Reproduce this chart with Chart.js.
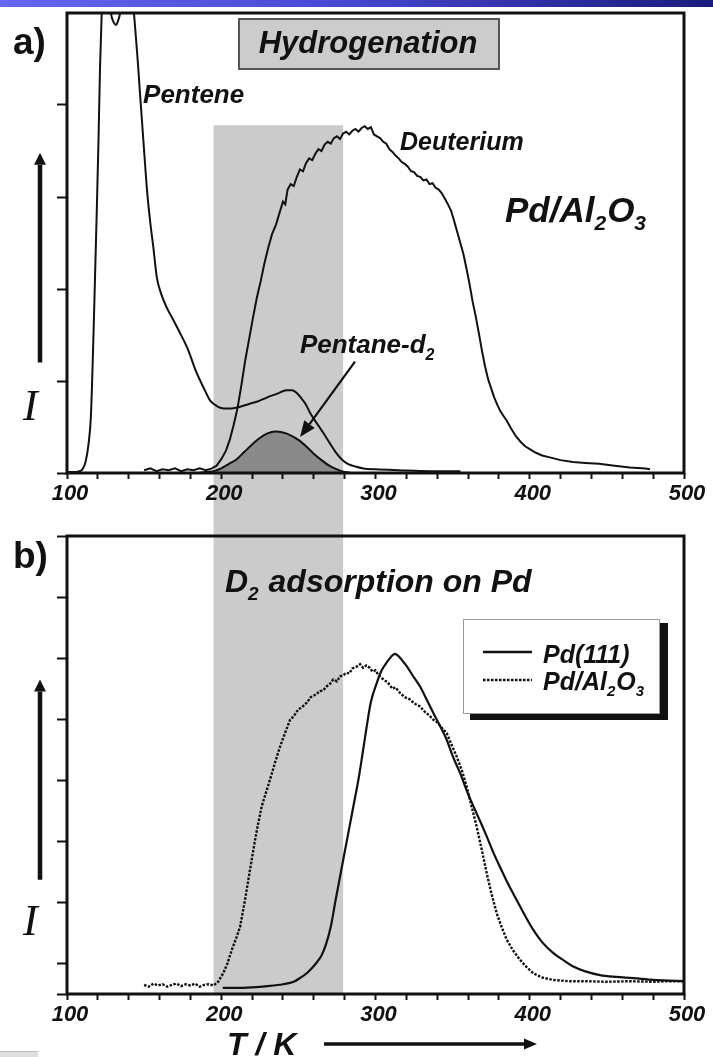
<!DOCTYPE html>
<html lang="en">
<head>
<meta charset="UTF-8">
<title>TPD spectra</title>
<style>
  body { margin: 0; background: #fff; }
  #page { position: relative; width: 713px; height: 1057px; overflow: hidden; background: #fff; }
  #topbar { position: absolute; left: 0; top: 0; width: 713px; height: 7px;
            background: linear-gradient(to right, #6666f0, #4a4ad6 45%, #1b1b7e); }
  #corner { position: absolute; left: 0; bottom: 0; width: 38px; height: 5px;
            background: #dedede; border-top: 1px solid #bdbdbd; }
  canvas { position: absolute; left: 0; }
  #chartA { top: 0; }
  #chartB { top: 520px; }
</style>
</head>
<body>
<div id="page">
  <canvas id="chartA" width="713" height="520"></canvas>
  <canvas id="chartB" width="713" height="537"></canvas>
  <div id="topbar"></div>
  <div id="corner"></div>
</div>

<script src="https://cdn.jsdelivr.net/npm/chart.js"></script>
<script>
// temperature axis (K)
const xTicks = [100, 120, 140, 160, 180, 200, 220, 240, 260, 280, 300, 320, 340, 360, 380, 400, 420, 440, 460, 480, 500];
const xLabels = [100, 200, 300, 400, 500];
const yTicksA = [0, 1, 2, 3, 4];
const yTicksB = [0, 0.5, 1.5, 2.5, 3.5, 4.5, 5.5, 6.5, 7.5];

// hydrogenation window shaded in both panels
const bandT = [195, 279];
const bandTopA = 3.78;

// panel a) hydrogenation on Pd/Al2O3  [T, I]
const pentene = [
  [100, 0.01], [105, 0.01], [108, 0.02], [110, 0.04], [112, 0.12], [114, 0.32], [115.5, 0.62],
  [117, 1.4], [118.2, 2.15], [119.3, 2.85], [120.4, 3.6], [121.4, 4.4], [122.5, 5.0], [124.5, 5.45],
  [126.5, 5.4], [128.5, 5.0], [130.2, 4.9], [131.8, 4.87], [133.2, 4.92], [134.4, 5.0], [137.5, 5.5],
  [141, 5.5], [143.4, 5.0], [144.6, 4.75], [146, 4.45], [147.3, 4.13], [148.5, 3.85], [150, 3.5],
  [152, 3.05], [154, 2.72], [156, 2.45], [158.2, 2.13], [161, 1.95], [164.6, 1.80], [169, 1.66],
  [173.3, 1.52], [178, 1.36], [184, 1.09], [188.5, 0.93], [192.7, 0.79], [196, 0.74], [199.2, 0.71],
  [205, 0.70], [212.2, 0.72], [218, 0.75], [224, 0.78], [229.5, 0.82], [236, 0.86], [242.4, 0.90],
  [246, 0.90], [249, 0.87], [252, 0.81], [255, 0.74], [258, 0.64], [262, 0.54], [266, 0.44],
  [270.5, 0.32], [274, 0.23], [278, 0.15], [282, 0.10], [287, 0.07], [292, 0.05], [300, 0.04],
  [315, 0.03], [335, 0.02], [355, 0.02]
];
const deuterium = [
  [150, 0.03], [154, 0.05], [158, 0.02], [162, 0.04], [166, 0.03], [170, 0.05], [174, 0.02],
  [178, 0.04], [182, 0.03], [186, 0.05], [190, 0.03], [194, 0.05], [197, 0.08], [200, 0.15],
  [203, 0.24], [205.5, 0.36], [208, 0.52], [210.5, 0.70], [213, 0.95], [215.5, 1.22], [218, 1.45],
  [220.5, 1.68], [223, 1.90], [225.5, 2.08], [228, 2.28], [230.5, 2.45], [233, 2.60], [235.5, 2.70],
  [238, 2.84], [240, 2.95], [241.5, 2.92], [243, 3.08], [245, 3.14], [247, 3.12], [249, 3.22],
  [251, 3.30], [253, 3.28], [255, 3.37], [257, 3.42], [259, 3.40], [261, 3.47], [263, 3.52],
  [265, 3.50], [267, 3.57], [269, 3.60], [271, 3.58], [273, 3.64], [275, 3.66], [277, 3.63],
  [279, 3.69], [281, 3.71], [283, 3.68], [285, 3.72], [287, 3.74], [289, 3.71], [291, 3.75],
  [293, 3.77], [295, 3.74], [297, 3.76], [299, 3.68], [301, 3.66], [303, 3.64], [305, 3.60],
  [307, 3.58], [309, 3.52], [311, 3.49], [313, 3.45], [315, 3.42], [317, 3.38], [319, 3.36],
  [321, 3.33], [323, 3.28], [325, 3.27], [327, 3.23], [329, 3.22], [331, 3.18], [333, 3.19],
  [335, 3.14], [337, 3.15], [339, 3.10], [341, 3.08], [343, 3.04], [345, 2.98], [347, 2.92],
  [349, 2.85], [351, 2.74], [353, 2.62], [355, 2.50], [357, 2.38], [359, 2.22], [361, 2.05],
  [363, 1.86], [365, 1.70], [367, 1.52], [369, 1.33], [371, 1.16], [373, 1.02], [375, 0.92],
  [377, 0.82], [379, 0.74], [381, 0.67], [383, 0.62], [385, 0.57], [388, 0.48], [391, 0.40],
  [394, 0.34], [397, 0.29], [400, 0.26], [404, 0.22], [408, 0.19], [413, 0.17], [420, 0.14],
  [428, 0.12], [436, 0.11], [445, 0.10], [455, 0.08], [465, 0.06], [475, 0.05], [478, 0.04]
];
const pentaneD2 = [
  [185, 0.0], [190, 0.01], [195, 0.02], [200, 0.05], [205, 0.10], [210, 0.15], [215, 0.23],
  [220, 0.31], [225, 0.38], [230, 0.43], [235, 0.45], [240, 0.44], [245, 0.41], [250, 0.36],
  [255, 0.29], [260, 0.21], [265, 0.14], [270, 0.08], [275, 0.04], [280, 0.01], [285, 0.0]
];

// panel b) D2 desorption  [T, I]
const pd111 = [
  [201, 0.10], [210, 0.10], [220, 0.11], [230, 0.13], [240, 0.16], [247, 0.20], [251, 0.26],
  [255.4, 0.34], [259, 0.43], [262, 0.52], [265, 0.63], [268, 0.82], [271, 1.10], [274, 1.52],
  [277, 1.92], [280, 2.32], [283, 2.72], [286, 3.12], [289, 3.52], [292, 4.00], [294.3, 4.38],
  [297, 4.78], [300.8, 5.09], [304, 5.30], [307.3, 5.43], [310, 5.52], [312.6, 5.57], [315, 5.53],
  [318, 5.44], [320.2, 5.37], [324, 5.22], [328.8, 5.04], [333, 4.83], [337.5, 4.60], [342, 4.38],
  [346.2, 4.16], [350, 3.90], [354.8, 3.62], [359, 3.34], [363.4, 3.08], [368, 2.82], [372.1, 2.58],
  [376, 2.34], [380.7, 2.08], [386, 1.80], [391.5, 1.54], [397, 1.28], [402.3, 1.05], [408, 0.85],
  [415.3, 0.67], [422, 0.55], [428.2, 0.45], [436, 0.37], [445.5, 0.31], [456, 0.28], [467, 0.26],
  [480, 0.23], [490, 0.22], [500, 0.21]
];
const pdAl2O3 = [
  [150, 0.15], [153, 0.12], [156, 0.17], [159, 0.14], [162, 0.16], [165, 0.12], [168, 0.15],
  [171, 0.17], [174, 0.13], [177, 0.16], [180, 0.14], [183, 0.17], [186, 0.12], [189, 0.15],
  [192, 0.16], [195, 0.14], [198, 0.20], [201.3, 0.34], [204, 0.50], [206.8, 0.72], [209.5, 0.90],
  [212.2, 1.10], [215.4, 1.54], [218.6, 2.03], [221.9, 2.52], [224, 2.80], [226.2, 3.07], [229, 3.30],
  [231.6, 3.51], [235, 3.80], [238.1, 4.05], [241, 4.25], [244.6, 4.49], [247, 4.55], [250, 4.66],
  [252.5, 4.70], [255.4, 4.77], [258, 4.86], [261, 4.90], [264, 4.96], [266, 4.97], [268.4, 5.04],
  [270.5, 5.08], [272.6, 5.15], [275, 5.12], [277, 5.20], [279.1, 5.22], [281, 5.26], [283, 5.25],
  [285, 5.33], [287.8, 5.36], [290, 5.40], [292, 5.34], [294, 5.38], [296.4, 5.34], [298, 5.28],
  [300, 5.30], [302, 5.22], [305.1, 5.15], [308, 5.10], [311, 5.00], [313, 5.02], [315.9, 4.93],
  [319, 4.86], [322, 4.83], [325, 4.76], [328.8, 4.71], [332, 4.62], [335, 4.56], [337.5, 4.49],
  [340, 4.45], [343, 4.36], [346.2, 4.27], [349, 4.10], [352.6, 3.89], [356, 3.66], [359.1, 3.40],
  [362, 3.10], [365.6, 2.74], [369, 2.35], [372.1, 1.98], [375, 1.66], [378.6, 1.32], [382, 1.08],
  [385.1, 0.89], [389, 0.72], [393.7, 0.56], [398, 0.44], [402.3, 0.34], [408, 0.27], [415.3, 0.23],
  [425, 0.21], [435, 0.21], [450, 0.20], [465, 0.21], [480, 0.20], [490, 0.21], [500, 0.21]
];

const ink = '#111';
const sans = '"Liberation Sans", Arial, sans-serif';
const bi = px => `italic bold ${px}px ${sans}`;
const pts = arr => arr.map(([x, y]) => ({ x, y }));

// text with subscripted pieces, e.g. [['Pd/Al'], ['2', 1], ['O'], ['3', 1]]
function richText(ctx, parts, x, y, size) {
  let cx = x;
  for (const [s, sub] of parts) {
    const fs = sub ? Math.round(size * 0.6) : size;
    ctx.font = bi(fs);
    ctx.fillText(s, cx, sub ? y + size * 0.24 : y);
    cx += ctx.measureText(s).width + (sub ? 1 : 0);
  }
}

function arrow(ctx, x0, y0, x1, y1, w, head, headW) {
  const a = Math.atan2(y1 - y0, x1 - x0);
  const bx = x1 - head * Math.cos(a), by = y1 - head * Math.sin(a);
  ctx.lineWidth = w;
  ctx.beginPath(); ctx.moveTo(x0, y0); ctx.lineTo(bx, by); ctx.stroke();
  ctx.beginPath();
  ctx.moveTo(x1, y1);
  ctx.lineTo(bx + headW / 2 * Math.sin(a), by - headW / 2 * Math.cos(a));
  ctx.lineTo(bx - headW / 2 * Math.sin(a), by + headW / 2 * Math.cos(a));
  ctx.closePath(); ctx.fill();
}

function xAxis() {
  return {
    type: 'linear', min: 100, max: 500,
    afterFit: s => { s.height = 30; },
    afterBuildTicks: s => { s.ticks = xTicks.map(v => ({ value: v })); },
    border: { display: false },
    grid: { drawOnChartArea: false, tickLength: 6, tickWidth: 2, color: ink },
    ticks: {
      autoSkip: false, maxRotation: 0, padding: 2, labelOffset: 3, color: ink,
      font: { family: sans, size: 22, style: 'italic', weight: 'bold' },
      callback: v => xLabels.includes(v) ? String(v) : ''
    }
  };
}

function yAxis(max, ticks) {
  return {
    min: 0, max,
    afterFit: s => { s.width = 12; },
    afterBuildTicks: s => { s.ticks = ticks.map(v => ({ value: v })); },
    border: { display: false },
    grid: { drawOnChartArea: false, tickLength: 10, tickWidth: 2, color: ink },
    ticks: { display: false }
  };
}

// grey temperature window, drawn under axes and curves
function bandPlugin(top) {
  return {
    id: 'band',
    beforeDraw(chart) {
      const { ctx, scales: { x, y } } = chart;
      const x0 = x.getPixelForValue(bandT[0]), x1 = x.getPixelForValue(bandT[1]);
      const y0 = top ? y.getPixelForValue(bandTopA) : 0;
      const y1 = top ? chart.height : y.getPixelForValue(0);
      ctx.save();
      ctx.fillStyle = '#cbcbcb';
      ctx.fillRect(x0, y0, x1 - x0, y1 - y0);
      ctx.restore();
    }
  };
}

const framePlugin = {
  id: 'frame',
  afterDatasetsDraw(chart) {
    const { ctx, chartArea: a } = chart;
    ctx.save();
    ctx.strokeStyle = ink;
    ctx.lineWidth = 3;
    ctx.strokeRect(a.left, a.top, a.right - a.left, a.bottom - a.top);
    ctx.restore();
  }
};

// side arrow with the intensity symbol
function intensityMark(ctx, a, y, tipV, baseV, labelV) {
  ctx.fillStyle = ink; ctx.strokeStyle = ink;
  arrow(ctx, a.left - 27, y.getPixelForValue(baseV), a.left - 27, y.getPixelForValue(tipV), 4.5, 12, 12);
  ctx.font = 'italic 44px "Liberation Serif", "Times New Roman", serif';
  ctx.textAlign = 'left';
  ctx.fillText('I', a.left - 44, y.getPixelForValue(labelV));
}

const labelsA = {
  id: 'labelsA',
  afterDraw(chart) {
    const { ctx, chartArea: a, scales: { x, y } } = chart;
    ctx.save();
    ctx.fillStyle = ink; ctx.strokeStyle = ink;
    ctx.textBaseline = 'alphabetic';

    ctx.font = `bold 37px ${sans}`;
    ctx.fillText('a)', a.left - 54, a.top + 41);

    // title box
    ctx.fillStyle = '#cccccc';
    ctx.fillRect(a.left + 172, a.top + 6, 260, 50);
    ctx.strokeStyle = '#555'; ctx.lineWidth = 2;
    ctx.strokeRect(a.left + 172, a.top + 6, 260, 50);
    ctx.fillStyle = ink; ctx.strokeStyle = ink;
    ctx.font = bi(31); ctx.textAlign = 'center';
    ctx.fillText('Hydrogenation', a.left + 301, a.top + 40);
    ctx.textAlign = 'left';

    ctx.font = bi(26);
    ctx.fillText('Pentene', x.getPixelForValue(149.3), y.getPixelForValue(4.02));
    ctx.font = bi(25);
    ctx.fillText('Deuterium', x.getPixelForValue(315.9), y.getPixelForValue(3.51));
    richText(ctx, [['Pd/Al'], ['2', 1], ['O'], ['3', 1]], a.left + 438, a.top + 209, 35);
    richText(ctx, [['Pentane-d'], ['2', 1]], x.getPixelForValue(251), y.getPixelForValue(1.30), 26);
    arrow(ctx, x.getPixelForValue(286.7), y.getPixelForValue(1.21),
          x.getPixelForValue(251.1), y.getPixelForValue(0.39), 2.2, 16, 13);

    intensityMark(ctx, a, y, 3.48, 1.2, 0.576);
    ctx.restore();
  }
};

const labelsB = {
  id: 'labelsB',
  afterDraw(chart) {
    const { ctx, chartArea: a, scales: { y } } = chart;
    ctx.save();
    ctx.fillStyle = ink; ctx.strokeStyle = ink;
    ctx.textAlign = 'left'; ctx.textBaseline = 'alphabetic';

    ctx.font = `bold 37px ${sans}`;
    ctx.fillText('b)', a.left - 54, a.top + 32);

    richText(ctx, [['D'], ['2', 1], [' adsorption on Pd']], a.left + 158, a.top + 56, 32);

    // legend with drop shadow
    const lx = a.left + 396, ly = a.top + 83, lw = 196, lh = 94;
    ctx.fillStyle = ink;
    ctx.fillRect(lx + 7, ly + 4, lw + 2, lh + 3);
    ctx.fillStyle = '#fff';
    ctx.fillRect(lx, ly, lw, lh);
    ctx.strokeStyle = '#999'; ctx.lineWidth = 1;
    ctx.strokeRect(lx + 0.5, ly + 0.5, lw, lh);
    ctx.strokeStyle = ink; ctx.fillStyle = ink;
    ctx.lineWidth = 2.5;
    ctx.beginPath(); ctx.moveTo(lx + 20, ly + 33); ctx.lineTo(lx + 69, ly + 33); ctx.stroke();
    ctx.setLineDash([2.5, 1.5]); ctx.lineWidth = 2.4;
    ctx.beginPath(); ctx.moveTo(lx + 20, ly + 61); ctx.lineTo(lx + 69, ly + 61); ctx.stroke();
    ctx.setLineDash([]);
    ctx.font = bi(25);
    ctx.fillText('Pd(111)', lx + 80, ly + 44);
    richText(ctx, [['Pd/Al'], ['2', 1], ['O'], ['3', 1]], lx + 80, ly + 71, 25);

    // temperature axis title
    ctx.font = bi(32);
    ctx.fillText('T / K', a.left + 160, a.bottom + 61);
    arrow(ctx, a.left + 257, a.bottom + 50, a.left + 470, a.bottom + 50, 3.5, 13, 11);

    intensityMark(ctx, a, y, 5.15, 1.87, 0.97);
    ctx.restore();
  }
};

const common = {
  responsive: false,
  animation: false,
  events: [],
  plugins: { legend: { display: false }, tooltip: { enabled: false } },
  elements: { point: { radius: 0 } }
};

new Chart(document.getElementById('chartA'), {
  type: 'line',
  data: {
    datasets: [
      { label: 'Pentane-d2', data: pts(pentaneD2), borderColor: ink, borderWidth: 2,
        backgroundColor: '#8a8a8a', fill: 'origin', cubicInterpolationMode: 'monotone' },
      { label: 'Pentene', data: pts(pentene), borderColor: ink, borderWidth: 2,
        cubicInterpolationMode: 'monotone', fill: false },
      { label: 'Deuterium', data: pts(deuterium), borderColor: ink, borderWidth: 2,
        tension: 0, fill: false }
    ]
  },
  options: {
    ...common,
    layout: { padding: { left: 55, top: 13, right: 29, bottom: 17 } },
    scales: { x: xAxis(), y: yAxis(5, yTicksA) }
  },
  plugins: [bandPlugin(true), framePlugin, labelsA]
});

new Chart(document.getElementById('chartB'), {
  type: 'line',
  data: {
    datasets: [
      { label: 'Pd(111)', data: pts(pd111), borderColor: ink, borderWidth: 2.2,
        cubicInterpolationMode: 'monotone', fill: false },
      { label: 'Pd/Al2O3', data: pts(pdAl2O3), borderColor: ink, borderWidth: 2.4,
        borderDash: [2.5, 1.5], tension: 0, fill: false }
    ]
  },
  options: {
    ...common,
    layout: { padding: { left: 55, top: 16, right: 29, bottom: 33 } },
    scales: { x: xAxis(), y: yAxis(7.5, yTicksB) }
  },
  plugins: [bandPlugin(false), framePlugin, labelsB]
});
</script>
</body>
</html>
